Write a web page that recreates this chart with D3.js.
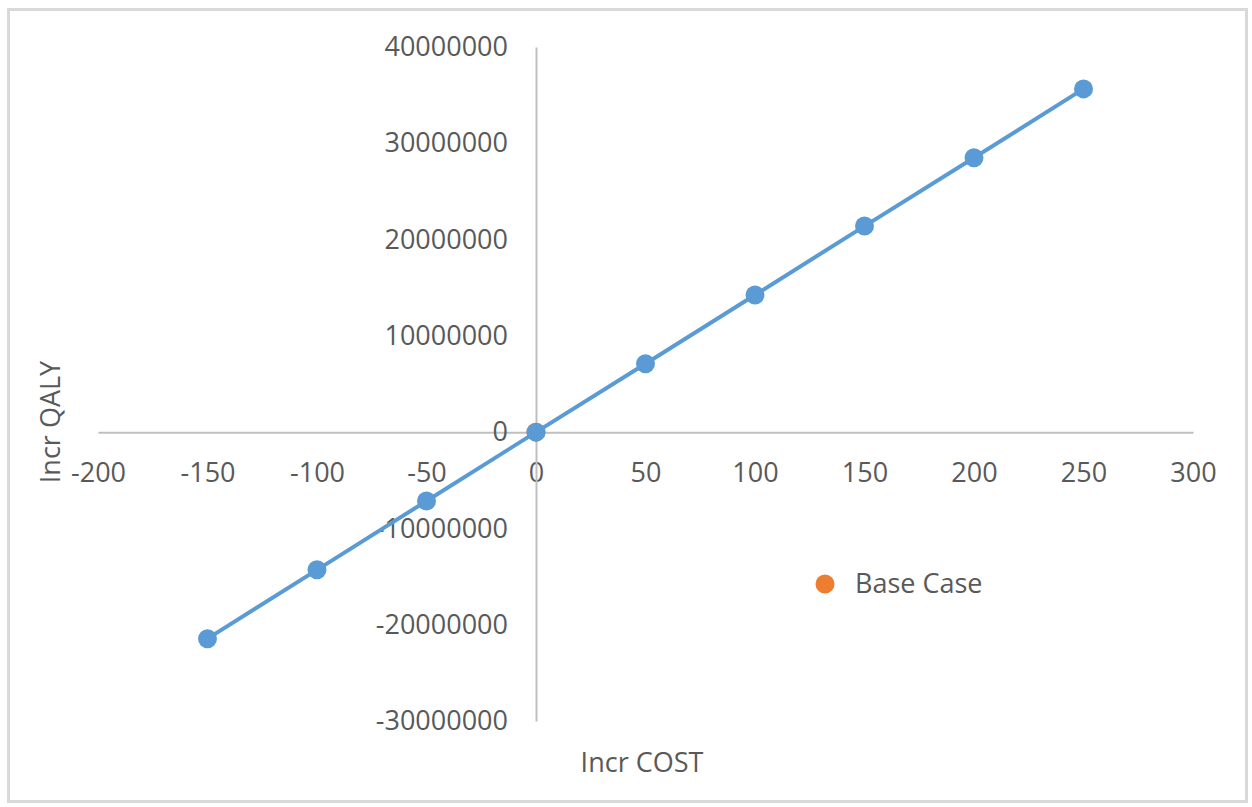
<!DOCTYPE html>
<html>
<head>
<meta charset="utf-8">
<script src="https://cdn.jsdelivr.net/npm/d3@7"></script>
<style>
  html, body { margin: 0; padding: 0; background: #fff; }
  svg { display: block; font-family: "Open Sans", "Liberation Sans", sans-serif; }
</style>
</head>
<body>
<svg id="chart" width="1252" height="807"></svg>
<script>
// Sensitivity sweep: incremental cost vs incremental QALY
const incrCost = [-150, -100, -50, 0, 50, 100, 150, 200, 250];
const incrQaly = [-21450000, -14300000, -7150000, 0, 7100000, 14250000, 21400000, 28500000, 35650000];

// Base case point
const baseCaseCost = [0];
const baseCaseQaly = [0];

const xTicks = [-200, -150, -100, -50, 0, 50, 100, 150, 200, 250, 300];
const yTicks = [-30000000, -20000000, -10000000, 0, 10000000, 20000000, 30000000, 40000000];

const legendLabels = ["Base Case"];

const svg = d3.select("#chart");

const textColor = "#595959";
const axisColor = "#bfbfbf";
const seriesColor = "#5b9bd5";
const baseColor = "#ed7d31";
const fontSize = 27;

// plain hyphen-minus for negative numbers
const fmt = d => (d < 0 ? "-" : "") + String(Math.abs(d));

// chart frame
svg.append("rect")
  .attr("x", 8.5).attr("y", 9.5)
  .attr("width", 1238).attr("height", 792)
  .attr("fill", "#fff")
  .attr("stroke", "#d9d9d9").attr("stroke-width", 3);

const x = d3.scaleLinear().domain([-200, 300]).range([98, 1193]);
const y = d3.scaleLinear().domain([-30000000, 40000000]).range([721, 47]);

// horizontal axis through y = 0
const xAxis = d3.axisBottom(x).tickValues(xTicks).tickSize(0).tickFormat(fmt);
const gx = svg.append("g").attr("transform", `translate(0,${y(0)})`).call(xAxis);
gx.select(".domain").attr("stroke", axisColor).attr("stroke-width", 2);
gx.selectAll("text")
  .attr("fill", textColor).attr("font-size", fontSize)
  .attr("font-family", "'Open Sans', sans-serif")
  .attr("y", 40).attr("dy", "0.35em");

// vertical axis through x = 0
const yAxis = d3.axisLeft(y).tickValues(yTicks).tickSize(0).tickPadding(28).tickFormat(fmt);
const gy = svg.append("g").attr("transform", `translate(${x(0)},0)`).call(yAxis);
gy.select(".domain").attr("stroke", axisColor).attr("stroke-width", 2);
gy.selectAll("text")
  .attr("fill", textColor).attr("font-size", fontSize)
  .attr("font-family", "'Open Sans', sans-serif");

// axis titles
svg.append("text")
  .attr("x", 642).attr("y", 763).attr("dy", "0.35em")
  .attr("text-anchor", "middle")
  .attr("fill", textColor).attr("font-size", fontSize)
  .text("Incr COST");

svg.append("text")
  .attr("transform", "translate(51,422) rotate(-90)")
  .attr("dy", "0.35em")
  .attr("text-anchor", "middle")
  .attr("fill", textColor).attr("font-size", fontSize)
  .text("Incr QALY");

// base case marker (underneath the sweep series)
svg.append("g").selectAll("circle")
  .data(baseCaseCost.map((c, i) => [c, baseCaseQaly[i]]))
  .join("circle")
  .attr("cx", d => x(d[0])).attr("cy", d => y(d[1]))
  .attr("r", 9.5).attr("fill", baseColor);

// sweep line and markers
const pts = incrCost.map((c, i) => [c, incrQaly[i]]);
svg.append("path")
  .datum(pts)
  .attr("fill", "none")
  .attr("stroke", seriesColor)
  .attr("stroke-width", 4)
  .attr("stroke-linejoin", "round")
  .attr("d", d3.line().x(d => x(d[0])).y(d => y(d[1])));

svg.append("g").selectAll("circle")
  .data(pts)
  .join("circle")
  .attr("cx", d => x(d[0])).attr("cy", d => y(d[1]))
  .attr("r", 9.5).attr("fill", seriesColor);

// legend
const lg = svg.append("g").attr("transform", "translate(825,584)");
lg.append("circle").attr("r", 9.5).attr("fill", baseColor);
lg.append("text")
  .attr("x", 30).attr("dy", "0.35em")
  .attr("fill", textColor).attr("font-size", fontSize)
  .text(legendLabels[0]);
</script>
</body>
</html>
